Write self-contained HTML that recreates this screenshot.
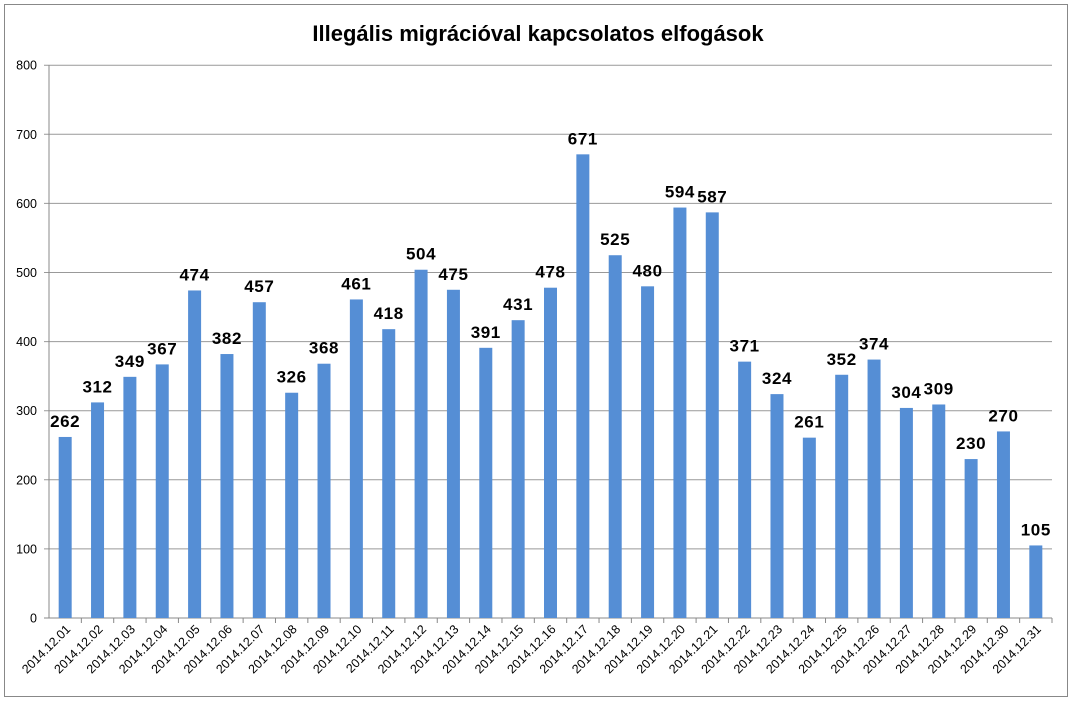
<!DOCTYPE html>
<html><head><meta charset="utf-8"><style>
body{margin:0;background:#fff;}
svg text{font-family:"Liberation Sans",sans-serif;}
</style></head><body>
<svg id="c" width="1073" height="702" xmlns="http://www.w3.org/2000/svg">
<rect x="4.5" y="4.5" width="1063" height="692" fill="#fff" stroke="#888" stroke-width="1"/>
<text x="538" y="41" text-anchor="middle" font-size="22" font-weight="bold" fill="#000">Illegális migrációval kapcsolatos elfogások</text>
<g id="g"></g>
</svg>
<script>
var v=[262,312,349,367,474,382,457,326,368,461,418,504,475,391,431,478,671,525,480,594,587,371,324,261,352,374,304,309,230,270,105];
var L=49,R=1052,Y0=618,S=69.1,step=(R-L)/31,h='';
for(var i=0;i<=8;i++){var y=Y0-i*S;
 h+='<line x1="'+(L-5)+'" y1="'+y+'" x2="'+R+'" y2="'+y+'" stroke="'+(i==0?'#888':'#999')+'" stroke-width="1"/>';
 h+='<text x="37" y="'+(y+4.5)+'" text-anchor="end" font-size="12.5" fill="#000">'+(i*100)+'</text>';}
h+='<line x1="'+L+'" y1="'+(Y0-8*S)+'" x2="'+L+'" y2="'+Y0+'" stroke="#888"/>';
for(var i=0;i<31;i++){
 var cx=L+step*(i+0.5),t=v[i]*S/100;
 h+='<rect x="'+(cx-6.5)+'" y="'+(Y0-t)+'" width="13" height="'+t+'" fill="#558ed5"/>';
 h+='<line x1="'+(L+step*(i+1))+'" y1="'+Y0+'" x2="'+(L+step*(i+1))+'" y2="'+(Y0+5)+'" stroke="#888"/>';
 h+='<text x="'+cx+'" y="'+(Y0-t-10)+'" text-anchor="middle" font-size="17" font-weight="bold" letter-spacing="0.6" fill="#000">'+v[i]+'</text>';
 var d=(i+1<10?'0':'')+(i+1);
 h+='<text transform="translate('+(cx+6)+','+(Y0+12)+') rotate(-45)" text-anchor="end" font-size="12.5" fill="#000">2014.12.'+d+'</text>';
}
document.getElementById('g').innerHTML=h;
</script>
</body></html>
